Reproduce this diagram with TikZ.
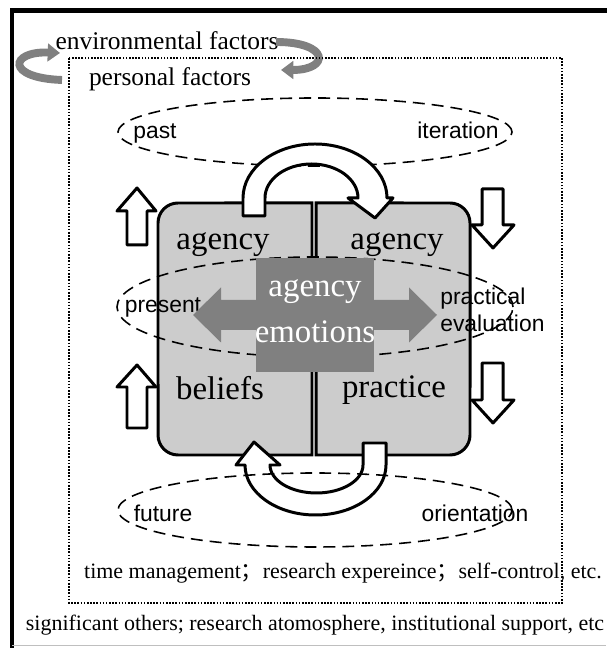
\documentclass[tikz,border=0pt]{standalone}
\usepackage{fontspec}
\setmainfont{Liberation Serif}
\newfontfamily\labelfont{Liberation Sans}
\newfontfamily\cjk{Noto Sans CJK SC}
\usetikzlibrary{arrows.meta}

\begin{document}
\begin{tikzpicture}[
    x=0.02cm, y=0.02cm,
    every node/.style={inner sep=0pt},
    envtext/.style={font=\fontsize{14.5}{17}\selectfont},
    boxword/.style={font=\fontsize{18.7}{22}\selectfont},
    phaseword/.style={font=\labelfont\fontsize{13}{15}\selectfont},
    footword/.style={font=\fontsize{12.5}{15}\selectfont},
    halfbox/.style={draw=black, fill=black!20, line width=1.7pt},
    phase/.style={dash pattern=on 6.8pt off 4pt, line width=0.9pt},
    hollow/.style={draw=black, fill=white, line width=1.7pt, line join=round},
    envarrow/.style={draw=black!50, line width=4.5pt, -{Triangle[length=7pt, width=10pt]}}
]
\useasboundingbox (0,0) rectangle (606,648);

% --- Outer frame (environment) ---
\draw[line width=2.5pt] (12,-10) -- (12,637.5) -- (640,637.5);
\draw[black!25, thin] (12,2.5) -- (606,2.5);

% --- Environmental factors with turning arrows ---
\node[envtext, anchor=base] (env) at (167,598) {environmental factors};
\draw[envarrow] (62,568) .. controls (5,570) and (10,597) .. (60,595);
\draw[envarrow] (276,606) .. controls (330,606) and (330,578) .. (281,578);

% --- Personal factors (dotted) ---
\draw[line width=1pt, dash pattern=on 0.9pt off 0.9pt] (69,590) rectangle (562,45);
\node[envtext, anchor=base] (pers) at (170,562) {personal factors};

% --- Two halves: beliefs | practice ---
\draw[halfbox] (312,193) -- (178,193) arc[start angle=270, end angle=180, radius=0.4cm]
    -- (158,425) arc[start angle=180, end angle=90, radius=0.4cm] -- (312,445) -- cycle;
\draw[halfbox] (316,193) -- (450,193) arc[start angle=270, end angle=360, radius=0.4cm]
    -- (470,425) arc[start angle=0, end angle=90, radius=0.4cm] -- (316,445) -- cycle;

% --- Past / present phases ---
\draw[phase] (315,516) ellipse [x radius=197, y radius=34];
\node[phaseword] (past) at (155,515) {past};
\node[phaseword] (iter) at (458,518) {iteration};

\draw[phase] (315,341) ellipse [x radius=198, y radius=50];
\node[phaseword] (pres) at (163,341) {present};
\node[phaseword, anchor=west, align=left] (eval) at (440,338) {practical\\evaluation};

% --- Top turning arrow: beliefs -> practice ---
\draw[hollow] (243,432) -- (243,450) arc[start angle=180, end angle=0, x radius=72, y radius=54]
    -- (393,450) -- (375,430) -- (348,450) -- (358,450)
    arc[start angle=0, end angle=180, x radius=46.5, y radius=34] -- (265,432) -- cycle;

% --- Bottom turning arrow: practice -> beliefs ---
\draw[hollow] (386,205) -- (386,183) arc[start angle=0, end angle=-180, x radius=70.5, y radius=50]
    -- (236,183) -- (254,206) -- (280,183) -- (270,183)
    arc[start angle=180, end angle=360, x radius=46.5, y radius=28] -- (363,205) -- cycle;

% --- Future phase ---
\draw[phase] (315,138) ellipse [x radius=197, y radius=37];
\node[phaseword] (fut) at (163,135) {future};
\node[phaseword] (orient) at (475,135) {orientation};

% --- Side arrows (up on the left, down on the right) ---
\draw[hollow] (127,403) -- (127,437) -- (117,437) -- (137,460) -- (156,437) -- (147,437) -- (147,403) -- cycle;
\draw[hollow] (127,220) -- (127,261) -- (117,261) -- (137,283) -- (156,261) -- (147,261) -- (147,220) -- cycle;
\draw[hollow] (482,459) -- (482,423) -- (472,423) -- (493,400) -- (514,423) -- (503,423) -- (503,459) -- cycle;
\draw[hollow] (482,285) -- (482,248) -- (472,248) -- (493,225) -- (514,248) -- (503,248) -- (503,285) -- cycle;

% --- Agency emotions in the middle ---
\fill[black!50] (193,333) -- (221,360.5) -- (221,348) -- (409,348) -- (409,360.5) -- (437,333)
    -- (409,305.5) -- (409,318) -- (221,318) -- (221,305.5) -- cycle;
\fill[black!50] (256,390) rectangle (374,276);
\node[boxword, white] (emo1) at (315,356) {agency};
\node[boxword, white] (emo2) at (315,316) {emotions};

% --- Words in the two halves ---
\node[boxword] (agl) at (223,403) {agency};
\node[boxword] (agr) at (397,403) {agency};
\node[boxword] (bel) at (220,260) {beliefs};
\node[boxword] (prac) at (394,258) {practice};

% --- Factor lists ---
\node[footword] (pers list) at (343,75) {time management{\cjk ；}research expereince{\cjk ；}self-control, etc.};
\node[footword] (env list) at (315,23) {significant others; research atomosphere, institutional support, etc};

\end{tikzpicture}
\end{document}
